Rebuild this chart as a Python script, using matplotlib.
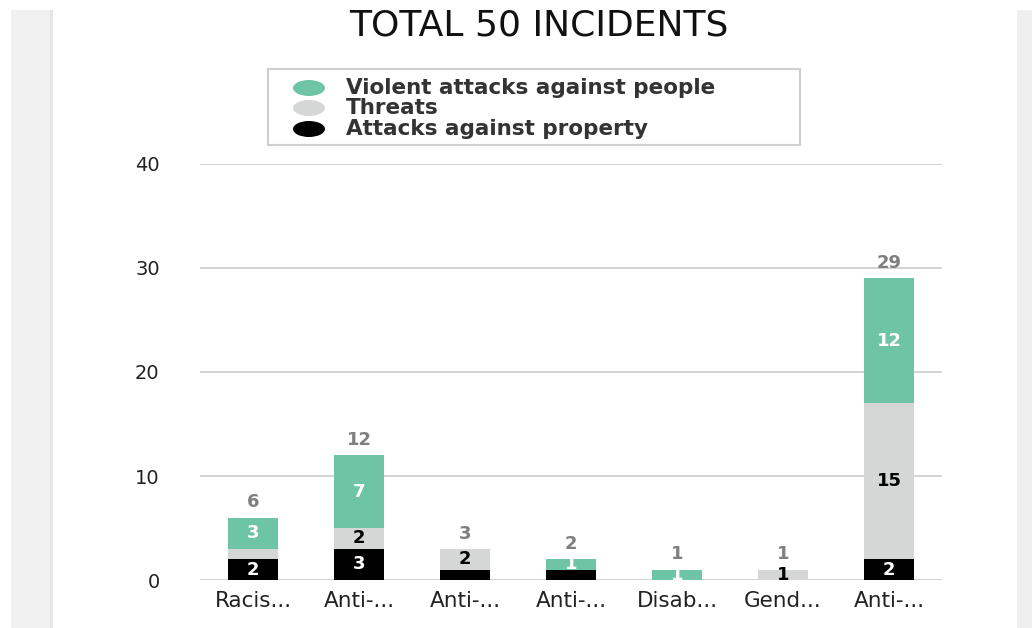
import matplotlib
matplotlib.use("Agg")
import matplotlib.pyplot as plt
from matplotlib.patches import Rectangle, Ellipse
import numpy as np

categories = ["Racis...", "Anti-...", "Anti-...", "Anti-...", "Disab...", "Gend...", "Anti-..."]
property_attacks = [2, 3, 1, 1, 0, 0, 2]
threats = [1, 2, 2, 0, 0, 1, 15]
violent = [3, 7, 0, 1, 1, 0, 12]
series_names = ["Violent attacks against people", "Threats", "Attacks against property"]
title_text = "TOTAL 50 INCIDENTS"
y_ticks = [0, 10, 20, 30, 40]

C_VIOLENT = "#6dc5a5"
C_THREAT = "#d4d7d6"
C_PROP = "#000000"

plt.rcParams["font.family"] = ["DejaVu Sans"]

W, H = 1032, 628
fig = plt.figure(figsize=(W / 100, H / 100), dpi=100)
fig.patch.set_facecolor("white")

def fx(px):
    return px / W

def fy(py):
    return 1 - py / H

# page background strips
fig.patches.append(Rectangle((fx(11), 0), fx(42), fy(10), transform=fig.transFigure,
                             facecolor="#f0f0f0", edgecolor="none", zorder=0))
fig.patches.append(Rectangle((fx(50), 0), fx(3), fy(10), transform=fig.transFigure,
                             facecolor="#e6e6e6", edgecolor="none", zorder=0))
fig.patches.append(Rectangle((fx(1017), 0), fx(15), fy(10), transform=fig.transFigure,
                             facecolor="#efefef", edgecolor="none", zorder=0))

ax = fig.add_axes([fx(200), fy(580), fx(942) - fx(200), fy(164) - fy(580)])
ax.set_facecolor("none")

x = np.arange(len(categories))
bw = 0.48
prop = np.array(property_attacks)
thr = np.array(threats)
vio = np.array(violent)

stack = [(prop, C_PROP, "white"), (thr, C_THREAT, "black"), (vio, C_VIOLENT, "white")]
bottom = np.zeros(len(categories))
totals = prop + thr + vio
for vals, col, tcol in stack:
    ax.bar(x, vals, bw, bottom=bottom, color=col, edgecolor="none", zorder=3)
    for i, v in enumerate(vals):
        if v <= 0:
            continue
        top_seg = (bottom[i] + v) == totals[i]
        if v >= 2 or top_seg:
            ax.text(x[i], bottom[i] + v / 2, str(v), ha="center", va="center",
                    color=tcol, fontsize=13, fontweight="bold", zorder=4)
    bottom = bottom + vals

for i, t in enumerate(totals):
    ax.annotate(str(t), (x[i], t), xytext=(0, 11), textcoords="offset points",
                ha="center", va="center", color="#7f7f7f", fontsize=13,
                fontweight="bold", zorder=4)

ax.set_xlim(-0.5, len(categories) - 0.5)
ax.set_ylim(0, 40)
ax.set_yticks(y_ticks)
ax.set_yticklabels([str(t) for t in y_ticks])
ax.set_xticks(x)
ax.set_xticklabels(categories)
ax.tick_params(axis="y", length=0, pad=29, labelsize=14, labelcolor="#222222")
ax.tick_params(axis="x", length=0, pad=8, labelsize=15.5, labelcolor="#222222")
ax.grid(axis="y", color="#cccccc", linewidth=1.2, zorder=0)
ax.set_axisbelow(True)
for s in ax.spines.values():
    s.set_visible(False)

# title
fig.text(fx(539), fy(25), title_text, ha="center", va="center", fontsize=26, color="#111111")

# legend (manual)
fig.patches.append(Rectangle((fx(268), fy(145)), fx(800) - fx(268), fy(69) - fy(145),
                             transform=fig.transFigure, facecolor="white",
                             edgecolor="#cfcfcf", linewidth=1.5, zorder=2))
leg_cols = [C_VIOLENT, C_THREAT, C_PROP]
leg_y = [88, 108, 129]
for name, col, yy in zip(series_names, leg_cols, leg_y):
    fig.patches.append(Ellipse((fx(309), fy(yy)), fx(32), 16 / H, transform=fig.transFigure,
                               facecolor=col, edgecolor="none", zorder=3))
    fig.text(fx(346), fy(yy), name, ha="left", va="center", fontsize=15.5,
             fontweight="bold", color="#333333", zorder=4)

fig.savefig("out.png", dpi=100)
